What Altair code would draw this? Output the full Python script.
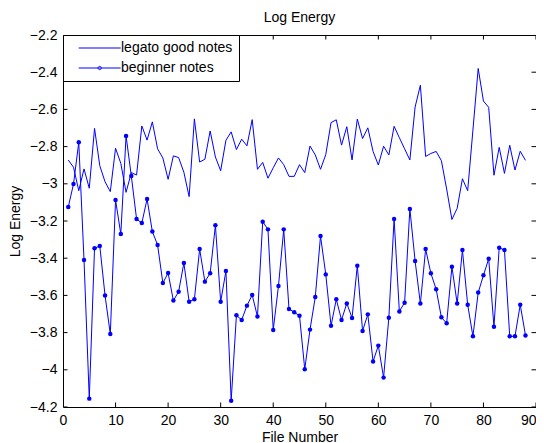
import altair as alt
import pandas as pd

# ---------------- data ----------------
file_numbers = list(range(1, 89))

legato_good = [
    -2.872, -2.911, -3.037, -2.920, -3.024, -2.702, -2.903, -2.989, -3.042, -2.809,
    -2.890, -3.046, -2.940, -2.953, -2.689, -2.765, -2.667, -2.812, -2.861, -2.976,
    -2.850, -2.859, -2.938, -3.069, -2.651, -2.883, -2.868, -2.716, -2.856, -2.930,
    -2.766, -2.721, -2.816, -2.760, -2.796, -2.655, -2.922, -2.885, -2.970, -2.914,
    -2.861, -2.897, -2.960, -2.960, -2.897, -2.940, -2.797, -2.845, -2.922, -2.843,
    -2.671, -2.656, -2.792, -2.693, -2.872, -2.652, -2.757, -2.699, -2.826, -2.899,
    -2.798, -2.845, -2.691, -2.752, -2.812, -2.872, -2.587, -2.470, -2.853, -2.837,
    -2.826, -2.876, -3.028, -3.192, -3.132, -2.973, -3.037, -2.711, -2.380, -2.555,
    -2.589, -2.954, -2.804, -2.944, -2.793, -2.926, -2.825, -2.874,
]

beginner = [
    -3.125, -3.001, -2.777, -3.410, -4.155, -3.347, -3.334, -3.600, -3.808, -3.087,
    -3.270, -2.743, -2.958, -3.189, -3.211, -3.082, -3.257, -3.329, -3.533, -3.480,
    -3.628, -3.580, -3.426, -3.634, -3.621, -3.351, -3.526, -3.481, -3.223, -3.634,
    -3.469, -4.166, -3.707, -3.732, -3.655, -3.598, -3.714, -3.204, -3.245, -3.786,
    -3.549, -3.245, -3.673, -3.691, -3.709, -3.997, -3.784, -3.609, -3.281, -3.487,
    -3.763, -3.621, -3.732, -3.643, -3.721, -3.440, -3.791, -3.702, -3.955, -3.870,
    -4.042, -3.720, -3.189, -3.686, -3.639, -3.135, -3.415, -3.644, -3.351, -3.481,
    -3.567, -3.718, -3.750, -3.446, -3.644, -3.356, -3.650, -3.820, -3.585, -3.492,
    -3.403, -3.768, -3.344, -3.356, -3.820, -3.820, -3.650, -3.815,
]

series_names = ["legato good notes", "beginner notes"]
x_ticks = [0, 10, 20, 30, 40, 50, 60, 70, 80, 90]
y_ticks = [-4.2, -4.0, -3.8, -3.6, -3.4, -3.2, -3.0, -2.8, -2.6, -2.4, -2.2]
x_domain = [0, 90]
y_domain = [-4.2, -2.2]

# ---------------- tables ----------------
df = pd.DataFrame({
    "x": file_numbers * 2,
    "y": legato_good + beginner,
    "series": [series_names[0]] * len(legato_good) + [series_names[1]] * len(beginner),
})
xtick_df = pd.DataFrame([{"x": v, "y": e} for v in x_ticks for e in y_domain])
ytick_df = pd.DataFrame([{"x": e, "y": v} for v in y_ticks for e in x_domain])

BLUE = "#0000FF"
FONT = "Liberation Sans"

# legend symbols: a horizontal stroke, and a stroke with a dot in its middle
LINE_PATH = "M0.9,0H14.9"
LINE_DOT_PATH = "M0.9,0H14.9M7.35,0a0.55,0.55 0 1,0 1.1,0a0.55,0.55 0 1,0 -1.1,0"

x_scale = alt.Scale(domain=x_domain, nice=False, zero=False)
y_scale = alt.Scale(domain=y_domain, nice=False, zero=False)

x_enc = alt.X("x:Q", scale=x_scale, axis=alt.Axis(
    values=x_ticks, title="File Number", ticks=False, tickSize=0, domain=False,
    grid=False, labelPadding=6, titlePadding=3, format="d",
    labelAlign={"condition": {"test": f"datum.value >= {x_domain[1]}", "value": "right"},
                "value": "center"},
    labelFlush=False, labelOverlap=False, labelBound=False))
y_enc = alt.Y("y:Q", scale=y_scale, axis=alt.Axis(
    values=y_ticks, title="Log Energy", ticks=False, tickSize=0, domain=False,
    grid=False, labelPadding=6, titlePadding=7,
    labelExpr="replace(format(datum.value, '.1f'), '.0', '')",
    labelFlush=False, labelOverlap=False, labelBound=False))

base = alt.Chart(df)

lines = base.mark_line(color=BLUE, strokeWidth=1, clip=True).encode(
    x=x_enc, y=y_enc, detail="series:N")

dots = base.transform_filter(alt.datum.series == series_names[1]).mark_point(
    filled=True, size=20, color=BLUE, opacity=1, clip=True).encode(x=x_enc, y=y_enc)

xticks_layer = alt.Chart(xtick_df).mark_tick(
    orient="vertical", size=9, thickness=1, color="black", opacity=1, clip=True
).encode(x=x_enc, y=y_enc)

yticks_layer = alt.Chart(ytick_df).mark_tick(
    orient="horizontal", size=9, thickness=1, color="black", opacity=1, clip=True
).encode(x=x_enc, y=y_enc)

legend_layer = base.transform_filter("false").mark_point(
    filled=False, size=36, opacity=1, strokeWidth=1, color=BLUE
).encode(
    x=x_enc, y=y_enc,
    shape=alt.Shape("series:N", scale=alt.Scale(domain=series_names,
                                                range=[LINE_PATH, LINE_DOT_PATH]),
                    legend=alt.Legend(
                        title=None, orient="none", legendX=0, legendY=0,
                        direction="vertical", strokeColor="black", fillColor="white",
                        padding=6, labelFont=FONT, labelFontSize=14, labelColor="black",
                        labelOffset=38, rowPadding=6, symbolSize=36,
                        symbolStrokeWidth=1, symbolStrokeColor=BLUE,
                        symbolFillColor="transparent", labelLimit=300)),
)

chart = alt.layer(lines, dots, xticks_layer, yticks_layer, legend_layer).properties(
    width=473,
    height=372,
    background="white",
    title=alt.TitleParams("Log Energy", font=FONT, fontSize=14, fontWeight="normal",
                          color="black", anchor="middle", baseline="alphabetic", offset=-8),
    autosize=alt.AutoSizeParams(type="none"),
    padding={"left": 55, "top": 27, "right": 0, "bottom": 37},
).configure_view(
    stroke="black", strokeWidth=1
).configure_axis(
    labelFont=FONT, labelFontSize=14, labelColor="black",
    titleFont=FONT, titleFontSize=14, titleFontWeight="normal", titleColor="black",
)

chart.save("out.html", embed_options={"renderer": "svg", "actions": False})
